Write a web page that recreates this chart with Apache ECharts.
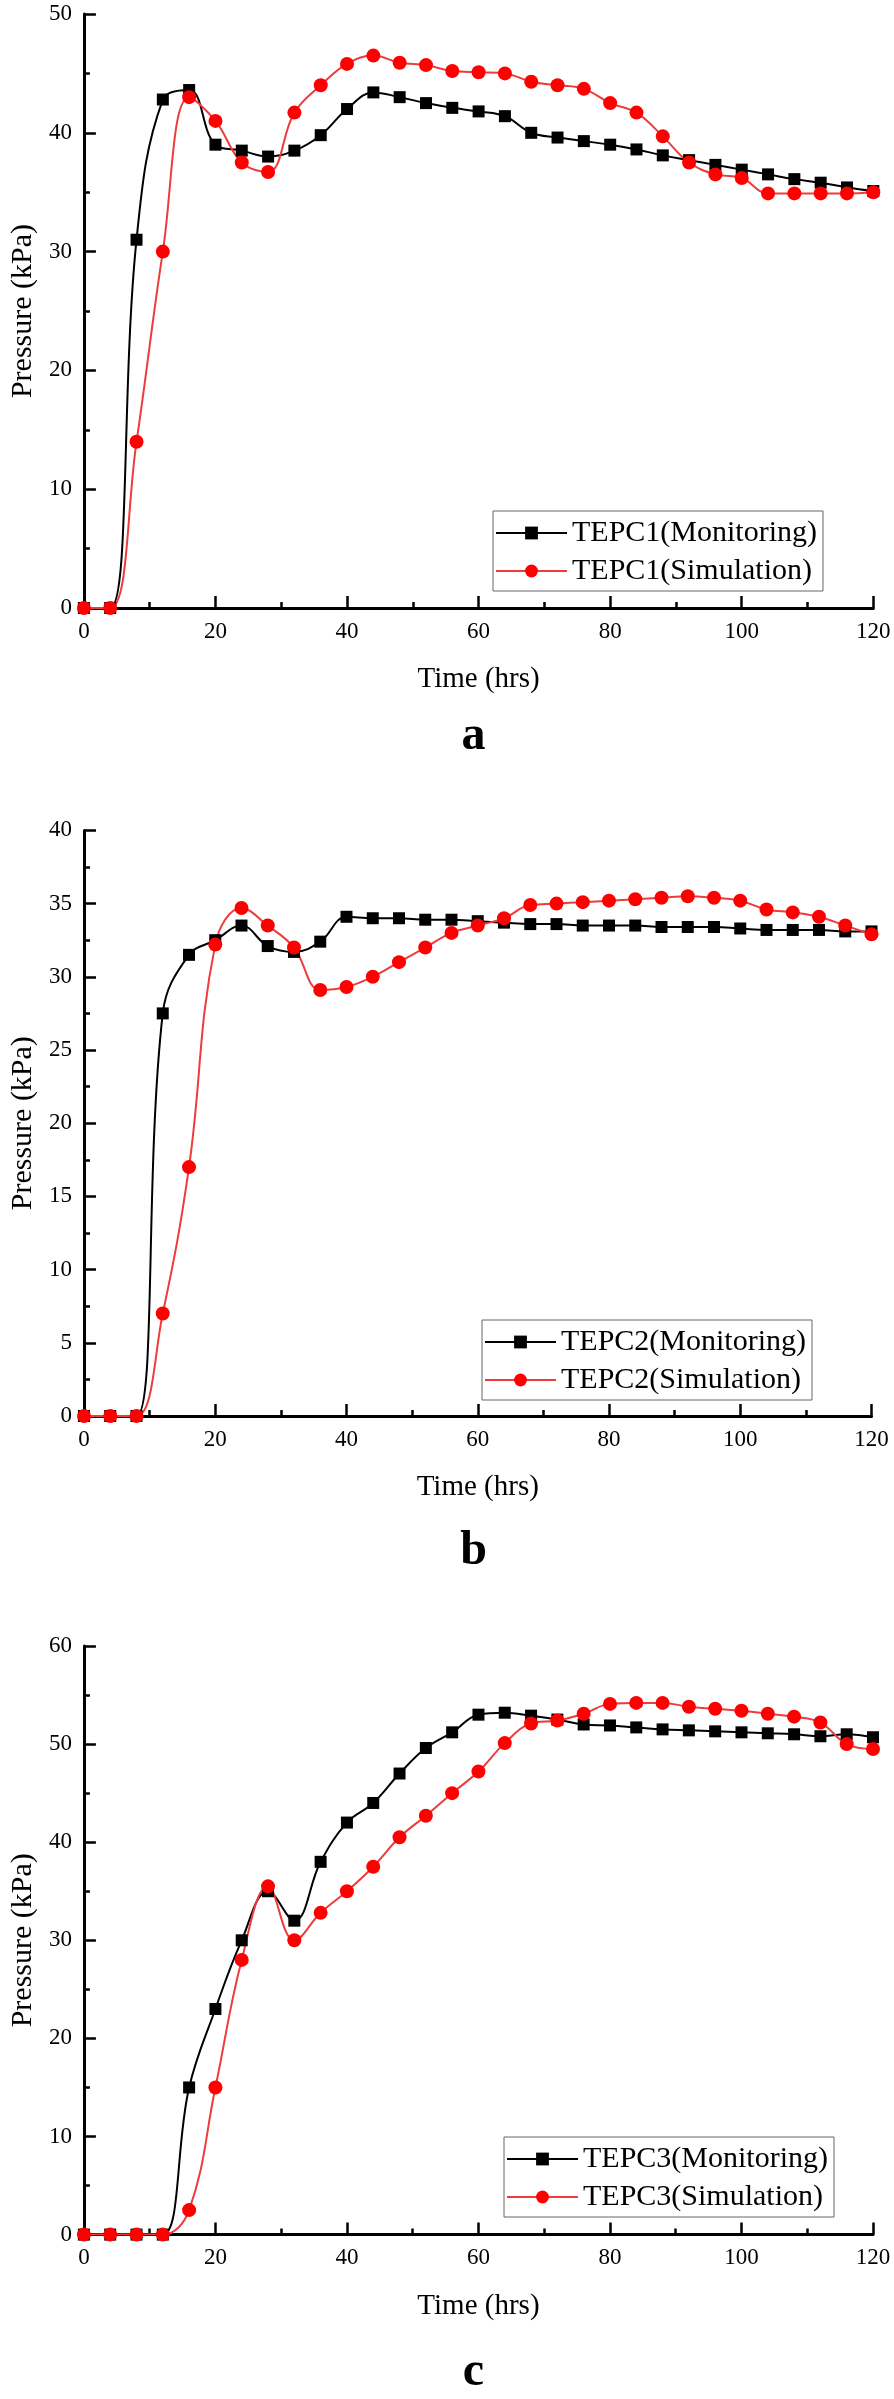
<!DOCTYPE html>
<html><head><meta charset="utf-8">
<script src="https://cdn.jsdelivr.net/npm/echarts@6/dist/echarts.min.js"></script>
<style>html,body{margin:0;padding:0;background:#fff}#c{width:894px;height:2399px}</style>
</head><body><div id="c"></div>
<script>
// Time (hrs)
const times = [0,4,8,12,16,20,24,28,32,36,40,44,48,52,56,60,64,68,72,76,80,84,88,92,96,100,104,108,112,116,120];
// Panel a
const tepc1Monitoring = [0,0,31,42.8,43.6,39.0,38.5,38.0,38.5,39.8,42.0,43.4,43.0,42.5,42.1,41.8,41.4,40.0,39.6,39.3,39.0,38.6,38.1,37.7,37.3,36.9,36.5,36.1,35.8,35.4,35.1];
const tepc1Simulation = [0,0,14,30,43.0,41.0,37.5,36.7,41.7,44.0,45.8,46.5,45.9,45.7,45.2,45.1,45.0,44.3,44.0,43.7,42.5,41.7,39.7,37.5,36.5,36.2,34.9,34.9,34.9,34.9,35.0];
// Panel b
const tepc2Monitoring = [0,0,0,27.5,31.5,32.5,33.5,32.1,31.7,32.4,34.1,34.0,34.0,33.9,33.9,33.8,33.7,33.6,33.6,33.5,33.5,33.5,33.4,33.4,33.4,33.3,33.2,33.2,33.2,33.1,33.1];
const tepc2Simulation = [0,0,0,7.0,17.0,32.2,34.7,33.5,32.0,29.1,29.3,30.0,31.0,32.0,33.0,33.5,34.0,34.9,35.0,35.1,35.2,35.3,35.4,35.5,35.4,35.2,34.6,34.4,34.1,33.5,32.9];
// Panel c
const tepc3Monitoring = [0,0,0,0,15,23,30,35,32,38,42,44,47,49.6,51.2,53.0,53.2,52.9,52.5,52.0,51.9,51.7,51.5,51.4,51.3,51.2,51.1,51.0,50.8,51.0,50.7];
const tepc3Simulation = [0,0,0,0,2.5,15,28,35.5,30,32.8,35,37.5,40.5,42.7,45,47.2,50.1,52.1,52.4,53.1,54.1,54.2,54.2,53.8,53.6,53.4,53.1,52.8,52.2,50.0,49.5];

const seriesNames = [
  ['TEPC1(Monitoring)','TEPC1(Simulation)'],
  ['TEPC2(Monitoring)','TEPC2(Simulation)'],
  ['TEPC3(Monitoring)','TEPC3(Simulation)']
];
const panelLetters = ['a','b','c'];
const yMax = [50, 40, 60];
const yInterval = [10, 5, 10];

const FONT = 'Liberation Serif';
const layout = [
  {grid:{left:77.7, top:14, width:795.6, height:594}, legend:{left:493, top:511}, letterY:737, yGap:44},
  {grid:{left:75, top:830.4, width:796.5, height:585.6}, legend:{left:482, top:1320}, letterY:1552, yGap:46},
  {grid:{left:83.3, top:1646, width:789.7, height:588.6}, legend:{left:504, top:2137}, letterY:2373, yGap:44}
];
const monData = [tepc1Monitoring, tepc2Monitoring, tepc3Monitoring];
const simData = [tepc1Simulation, tepc2Simulation, tepc3Simulation];

const pairs = arr => times.map((t,i)=>[t, arr[i]]);

function makeAxis(extra, nameSize){
  return Object.assign({
    axisLine:{show:true, onZero:false, lineStyle:{color:'#000', width:3}},
    axisTick:{show:true, inside:true, length:12, lineStyle:{color:'#000', width:2.5}},
    minorTick:{show:true, splitNumber:2, length:6, lineStyle:{color:'#000', width:2.5}},
    splitLine:{show:false},
    minorSplitLine:{show:false},
    axisLabel:{fontSize:23, color:'#000', fontFamily:FONT, fontWeight:'normal', margin:12},
    nameTextStyle:{fontSize:nameSize, color:'#000', fontFamily:FONT, fontWeight:'normal'},
    nameLocation:'middle'
  }, extra);
}

const option = {
  backgroundColor:'#fff',
  animation:false,
  grid: layout.map(l=>Object.assign({}, l.grid)),
  xAxis: layout.map((l,i)=>makeAxis({
    gridIndex:i, type:'value', min:0, max:120, interval:20,
    name:'Time (hrs)', nameGap:57
  }, 29)),
  yAxis: layout.map((l,i)=>makeAxis({
    gridIndex:i, type:'value', min:0, max:yMax[i], interval:yInterval[i],
    name:'Pressure (kPa)', nameGap:l.yGap, nameRotate:90
  }, 30)),
  legend: layout.map((l,i)=>({
    left:l.legend.left, top:l.legend.top, orient:'vertical',
    data:seriesNames[i],
    borderColor:'#666', borderWidth:1, borderRadius:0,
    padding:[7,6,5,2], itemGap:8, itemWidth:71, itemHeight:16,
    textStyle:{fontSize:30, lineHeight:30, color:'#000', fontFamily:FONT}
  })),
  series: [],
  graphic: layout.map((l,i)=>({
    type:'text', x:473.5, y:l.letterY,
    style:{text:panelLetters[i], fontSize:48, fontWeight:'bold', fontFamily:FONT, fill:'#000', align:'center', verticalAlign:'middle'}
  }))
};

for (let i=0;i<3;i++){
  option.series.push({
    name:seriesNames[i][0], type:'line', xAxisIndex:i, yAxisIndex:i,
    data:pairs(monData[i]), smooth:0.4,
    symbol:'rect', symbolSize:12,
    lineStyle:{color:'#000', width:2},
    itemStyle:{color:'#000'}
  });
  option.series.push({
    name:seriesNames[i][1], type:'line', xAxisIndex:i, yAxisIndex:i,
    data:pairs(simData[i]), smooth:0.4,
    symbol:'circle', symbolSize:14,
    lineStyle:{color:'#ee3b3b', width:2},
    itemStyle:{color:'#ff0000'}
  });
}

const chart = echarts.init(document.getElementById('c'), null, {renderer:'canvas'});
chart.setOption(option);
</script>
</body></html>
